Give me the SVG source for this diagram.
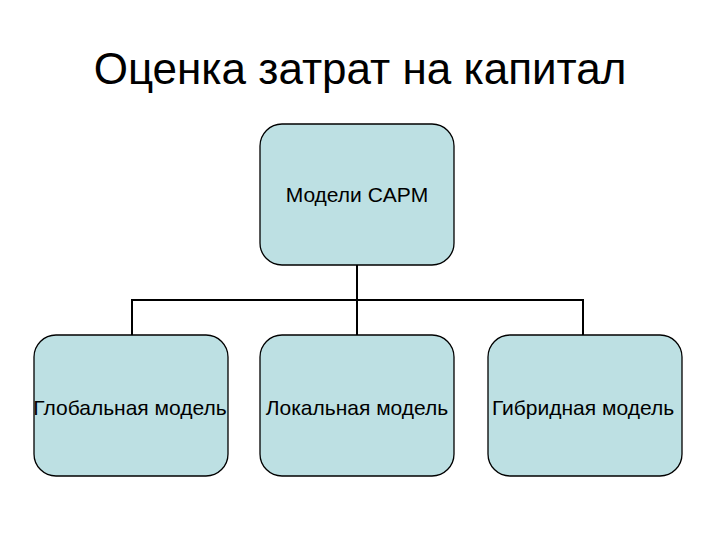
<svg xmlns="http://www.w3.org/2000/svg" width="720" height="540" viewBox="0 0 720 540">
<style>
.box{fill:#bde0e3;stroke:#000;stroke-width:1.3}
.t{font-family:"Liberation Sans",Arial,sans-serif;font-size:21px;text-anchor:middle;fill:#000}
.c{fill:none;stroke:#000;stroke-width:2}
</style>
<rect width="720" height="540" fill="#fff"/>
<text x="360" y="84" font-family="Liberation Sans,Arial,sans-serif" font-size="44" text-anchor="middle">Оценка затрат на капитал</text>
<g id="connectors">
<path class="c" d="M357 265V335M132 335V300H583V335"/>
</g>
<g id="n0"><rect class="box" x="260" y="124" width="194" height="141" rx="22"/><text class="t" x="357" y="202">Модели CAPM</text></g>
<g id="n1"><rect class="box" x="34" y="335" width="194" height="141" rx="22"/><text class="t" x="130" y="415">Глобальная модель</text></g>
<g id="n2"><rect class="box" x="260" y="335" width="194" height="141" rx="22"/><text class="t" x="357" y="415">Локальная модель</text></g>
<g id="n3"><rect class="box" x="488" y="335" width="194" height="141" rx="22"/><text class="t" x="583" y="415">Гибридная модель</text></g>
</svg>
